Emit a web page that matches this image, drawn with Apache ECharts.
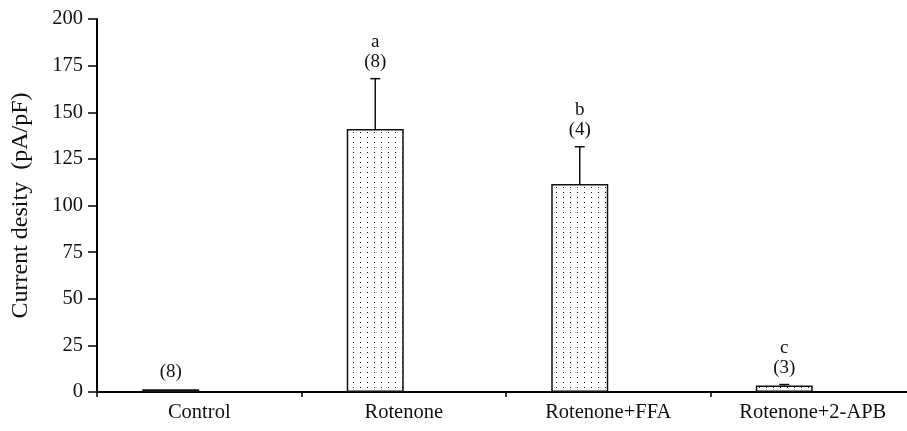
<!DOCTYPE html>
<html>
<head>
<meta charset="utf-8">
<script src="https://cdn.jsdelivr.net/npm/echarts@6/dist/echarts.min.js"></script>
<style>
html,body{margin:0;padding:0;background:#fff;}
#chart{width:907px;height:431px;}
</style>
</head>
<body>
<div id="chart"></div>
<script>
const categories = ['Control', 'Rotenone', 'Rotenone+FFA', 'Rotenone+2-APB'];
const means = [1.5, 141, 111.5, 3.5];
const errors = [0, 27, 20, 0.5];
const nLabels = ['(8)', '(8)', '(4)', '(3)'];
const sigLetters = ['', 'a', 'b', 'c'];
const yMin = 0, yMax = 200, yStep = 25;

const FONT = '"Liberation Serif", "Times New Roman", serif';
const BAR_W = 57;

// dotted fill pattern
const pc = document.createElement('canvas');
pc.width = 7; pc.height = 5;
const pctx = pc.getContext('2d');
pctx.fillStyle = '#fff';
pctx.fillRect(0, 0, 7, 5);
pctx.fillStyle = '#111';
pctx.fillRect(3, 2, 1, 1);

const chart = echarts.init(document.getElementById('chart'), null, {renderer: 'canvas'});

const errData = categories.map((c, i) => [i, means[i], errors[i]]);

chart.setOption({
  animation: false,
  backgroundColor: '#fff',
  grid: {left: 97, top: 19, width: 818, height: 373, containLabel: false, outerBoundsMode: 'none'},
  xAxis: {
    type: 'category',
    data: categories,
    boundaryGap: true,
    axisLine: {lineStyle: {color: '#000', width: 2}},
    axisTick: {show: true, interval: 0, length: 5, lineStyle: {color: '#000', width: 1.5}},
    axisLabel: {interval: 0, color: '#111', fontFamily: FONT, fontSize: 20.5, margin: 10}
  },
  yAxis: {
    type: 'value',
    min: yMin, max: yMax, interval: yStep,
    name: 'Current desity  (pA/pF)',
    nameLocation: 'middle',
    nameGap: 64,
    nameTextStyle: {color: '#111', fontFamily: FONT, fontSize: 24},
    axisLine: {show: true, lineStyle: {color: '#000', width: 2}},
    axisTick: {show: true, length: 9, lineStyle: {color: '#000', width: 1.5}},
    axisLabel: {color: '#111', fontFamily: FONT, fontSize: 20.5, margin: 14},
    splitLine: {show: false}
  },
  series: [
    {
      type: 'bar',
      data: means,
      barWidth: BAR_W,
      barGap: '0%',
      itemStyle: {color: {image: pc, repeat: 'repeat'}, borderColor: '#111', borderWidth: 1.5},
      z: 2
    },
    {
      type: 'bar',
      data: means.map(() => null),
      barWidth: BAR_W,
      barGap: '0%'
    },
    {
      type: 'custom',
      data: errData,
      clip: false,
      z: 5,
      renderItem: function (params, api) {
        const i = api.value(0);
        const m = api.value(1);
        const e = api.value(2);
        const base = api.coord([i, m]);
        const top = api.coord([i, m + e]);
        const x = base[0] - BAR_W / 2;
        const children = [];
        if (e > 0) {
          children.push({type: 'line', shape: {x1: x, y1: base[1], x2: x, y2: top[1]}, style: {stroke: '#111', lineWidth: 1.5}});
          children.push({type: 'line', shape: {x1: x - 5, y1: top[1], x2: x + 5, y2: top[1]}, style: {stroke: '#111', lineWidth: 1.5}});
        }
        children.push({type: 'text', x: x, y: top[1] - 17, style: {text: nLabels[i], fill: '#111', font: '19px ' + FONT, textAlign: 'center', textVerticalAlign: 'middle'}});
        if (sigLetters[i]) {
          children.push({type: 'text', x: x, y: top[1] - 37, style: {text: sigLetters[i], fill: '#111', font: '19px ' + FONT, textAlign: 'center', textVerticalAlign: 'middle'}});
        }
        return {type: 'group', children: children};
      }
    }
  ]
});
</script>
</body>
</html>
